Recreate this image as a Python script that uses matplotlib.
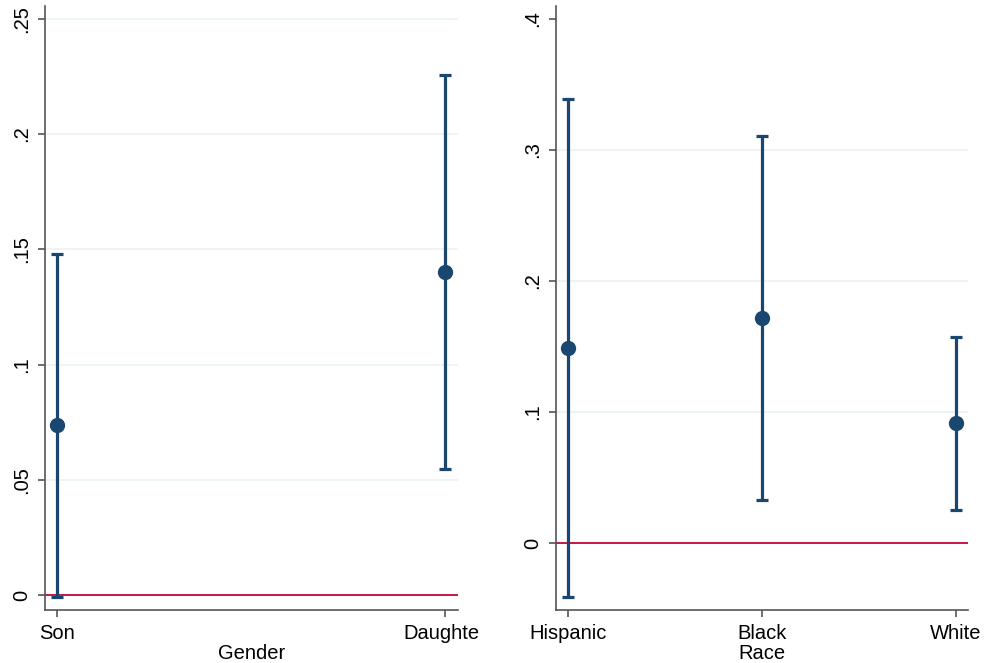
import matplotlib.pyplot as plt
from matplotlib.transforms import Bbox, TransformedBbox

plt.rcParams['font.family'] = ['Liberation Sans', 'DejaVu Sans']

# Panel 1: gender
gender = ['Son', 'Daughter']
gender_est = [0.0738, 0.140]
gender_lo = [-0.001, 0.0547]
gender_hi = [0.148, 0.2256]

# Panel 2: race
race = ['Hispanic', 'Black', 'White']
race_est = [0.149, 0.172, 0.0916]
race_lo = [-0.041, 0.0328, 0.0252]
race_hi = [0.339, 0.3105, 0.157]

left_ticks = [0, 0.05, 0.1, 0.15, 0.2, 0.25]
left_labels = ['0', '.05', '.1', '.15', '.2', '.25']
right_ticks = [0, 0.1, 0.2, 0.3, 0.4]
right_labels = ['0', '.1', '.2', '.3', '.4']

navy = '#1a476f'
red = '#c10534'
grid_col = '#eaf2f3'
spine_col = '#555555'
fs = 14.5

fig = plt.figure(figsize=(9.84, 6.63), dpi=100)
ax1 = fig.add_axes([0.0454, 0.0799, 0.4197, 0.911])
ax2 = fig.add_axes([0.565, 0.0799, 0.4187, 0.911])


def panel(ax, cats, est, lo, hi, ticks, labels, grid_vals, xlabel, xlim, ylim):
    x = list(range(len(cats)))
    for g in grid_vals:
        ax.axhline(g, color=grid_col, lw=1.2, zorder=0)
    ax.axhline(0, color=red, lw=1.3, zorder=1)
    yerr = [[e - l for e, l in zip(est, lo)], [h - e for e, h in zip(est, hi)]]
    ax.errorbar(x, est, yerr=yerr, fmt='o', color=navy, ms=10, elinewidth=2.3,
                capsize=4, capthick=2.3, zorder=3)
    ax.set_xticks(x)
    ax.set_xticklabels(cats, fontsize=fs)
    ax.set_yticks(ticks)
    ax.set_yticklabels(labels, fontsize=fs, rotation=90, va='center')
    ax.set_xlim(*xlim)
    ax.set_ylim(*ylim)
    ax.set_xlabel(xlabel, fontsize=fs, labelpad=1)
    for s in ['top', 'right']:
        ax.spines[s].set_visible(False)
    for s in ['left', 'bottom']:
        ax.spines[s].set_color(spine_col)
        ax.spines[s].set_linewidth(1.2)
    ax.tick_params(direction='out', length=5, width=1.2, color=spine_col, pad=5)


panel(ax1, gender, gender_est, gender_lo, gender_hi, left_ticks, left_labels,
      [0.05, 0.1, 0.15, 0.2, 0.25], 'Gender', (-0.031, 1.033), (-0.0065, 0.2555))
panel(ax2, race, race_est, race_lo, race_hi, right_ticks, right_labels,
      [0.1, 0.2, 0.3], 'Race', (-0.062, 2.062), (-0.051, 0.4097))

# the long category label is cut off at the plot region edge
lab = ax1.get_xticklabels()[1]
lab.set_clip_on(True)
lab.set_clip_box(TransformedBbox(Bbox([[0, 0], [479 / 984, 1]]), fig.transFigure))

fig.savefig('out.png', dpi=100)
